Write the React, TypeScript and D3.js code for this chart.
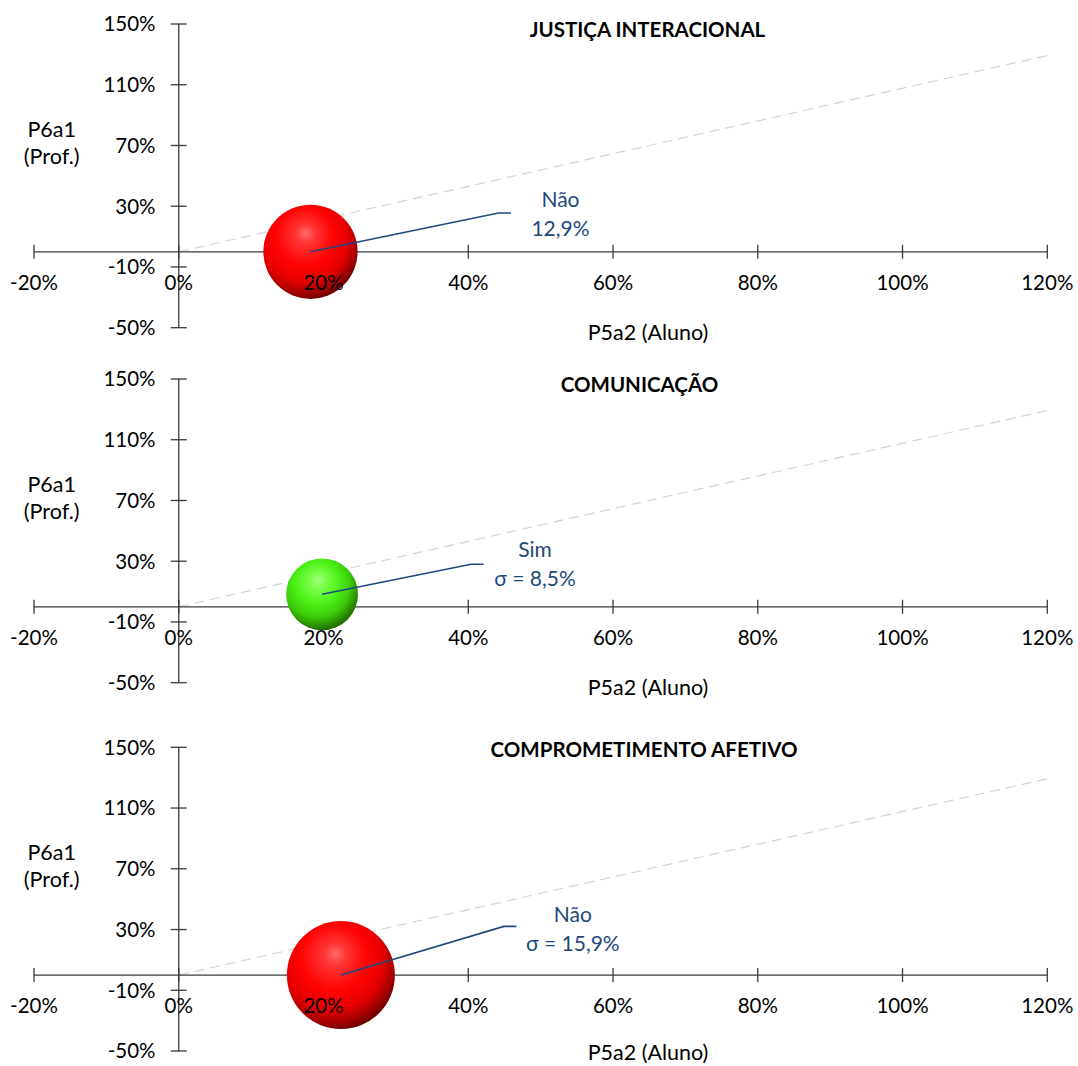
import React from "react";
import * as d3 from "d3";

// Dimension titles, one small bubble chart each
const panelTitles = ["JUSTIÇA INTERACIONAL", "COMUNICAÇÃO", "COMPROMETIMENTO AFETIVO"];
// P5a2 (student) position of each bubble
const studentValues = [0.182, 0.198, 0.224];
// P6a1 (teacher) position of each bubble
const teacherValues = [0.0, 0.082, 0.0];
// Standard deviation shown as bubble size
const sigmaValues = [0.129, 0.085, 0.159];
// Verdict printed above the sigma
const verdicts = ["Não", "Sim", "Não"];
const sigmaPrefixes = ["", "σ = ", "σ = "];
// Reference diagonal drawn in every panel
const referenceLine: [number, number][] = [
  [0, 0],
  [1.207, 1.3],
];
const xTicks = [-0.2, 0, 0.2, 0.4, 0.6, 0.8, 1.0, 1.2];
const yTicks = [1.5, 1.1, 0.7, 0.3, -0.1, -0.5];

// Layout
const W = 1078;
const H = 1066;
const panelTops = [24, 379, 747.3];
const plotH = 303.7;
const titleOffsets = [
  { x: 647.5, dy: 13.3 },
  { x: 639.5, dy: 13.3 },
  { x: 644, dy: 10 },
];
// label placement relative to the bubble centre
const labelOffsets = [
  { dx: 250, dy: -44.8, ex: 188, ey: -38.8 },
  { dx: 213, dy: -37, ex: 149, ey: -30 },
  { dx: 232, dy: -53, ex: 163, ey: -48.7 },
];

const FONT = "Lato, 'Open Sans', sans-serif";
const AXIS = "#3a3a3a";
const LABEL_BLUE = "#1F497D";
const fmt = (v: number) => `${Math.round(v * 100)}%`;
const fmtSigma = (v: number) => `${(v * 100).toFixed(1).replace(".", ",")}%`;

const x = d3.scaleLinear().domain([-0.2, 1.2]).range([34, 1047.3]);
const r = d3.scalePow().exponent(0.65).domain([0, 0.159]).range([0, 54]);

function Panel({ i }: { i: number }) {
  const top = panelTops[i];
  const y = d3.scaleLinear().domain([-0.5, 1.5]).range([top + plotH, top]);
  const y0 = y(0);
  const x0 = x(0);
  const cx = x(studentValues[i]);
  const cy = y(teacherValues[i]);
  const rad = r(sigmaValues[i]);
  const lo = labelOffsets[i];
  const lx = cx + lo.dx;
  const ly = cy + lo.dy;
  const line = d3
    .line<[number, number]>()
    .x((d) => x(d[0]))
    .y((d) => y(d[1]));
  const grad = i === 1 ? "url(#sphereGreen)" : "url(#sphereRed)";
  const tickFont = { fontFamily: FONT, fontSize: 20.5, fill: "#000" };
  const titleFont = { fontFamily: FONT, fontSize: 21.5, fill: "#000" };
  return (
    <g>
      {/* reference diagonal */}
      <path
        d={line(referenceLine) || ""}
        fill="none"
        stroke="#d4d4d4"
        strokeWidth={1.2}
        strokeDasharray="10,6"
      />
      {/* axes */}
      <line x1={x(-0.2)} x2={x(1.2)} y1={y0} y2={y0} stroke={AXIS} strokeWidth={1.3} />
      {xTicks.map((t) => (
        <line key={"xt" + t} x1={x(t)} x2={x(t)} y1={y0 - 7} y2={y0 + 7} stroke={AXIS} strokeWidth={1.3} />
      ))}
      <line x1={x0} x2={x0} y1={y(1.5)} y2={y(-0.5)} stroke={AXIS} strokeWidth={1.3} />
      {yTicks.map((t) => (
        <line key={"yt" + t} x1={x0 - 8} x2={x0 + 8} y1={y(t)} y2={y(t)} stroke={AXIS} strokeWidth={1.3} />
      ))}
      {/* bubble */}
      <circle cx={cx} cy={cy} r={rad} fill={grad} />
      {/* tick labels */}
      {xTicks.map((t) => (
        <text key={"xl" + t} x={x(t)} y={y0 + 38} textAnchor="middle" {...tickFont}>
          {fmt(t)}
        </text>
      ))}
      {yTicks.map((t) => (
        <text key={"yl" + t} x={155.5} y={y(t) + 7.3} textAnchor="end" {...tickFont}>
          {fmt(t)}
        </text>
      ))}
      {/* axis titles */}
      <text x={648} y={Math.min(y0 + 88.5, H - 6)} textAnchor="middle" {...titleFont}>
        P5a2 (Aluno)
      </text>
      <text x={51.7} y={top + 112.5} textAnchor="middle" {...titleFont}>
        P6a1
      </text>
      <text x={51.7} y={top + 140} textAnchor="middle" {...titleFont}>
        (Prof.)
      </text>
      {/* chart title */}
      <text
        x={titleOffsets[i].x}
        y={top + titleOffsets[i].dy}
        textAnchor="middle"
        fontFamily={FONT}
        fontWeight="bold"
        fontSize={20.5}
        fill="#000"
      >
        {panelTitles[i]}
      </text>
      {/* data label with leader */}
      <polyline
        points={`${cx},${cy} ${cx + lo.ex},${cy + lo.ey} ${cx + lo.ex + 12.5},${cy + lo.ey}`}
        fill="none"
        stroke={LABEL_BLUE}
        strokeWidth={1.6}
      />
      <text x={lx} y={ly} textAnchor="middle" fontFamily={FONT} fontSize={21} fill={LABEL_BLUE}>
        {verdicts[i]}
      </text>
      <text x={lx} y={ly + 29} textAnchor="middle" fontFamily={FONT} fontSize={21} fill={LABEL_BLUE}>
        {sigmaPrefixes[i] + fmtSigma(sigmaValues[i])}
      </text>
    </g>
  );
}

export default function App() {
  return (
    <svg
      width={W}
      height={H}
      viewBox={`0 0 ${W} ${H}`}
      style={{ position: "absolute", left: 0, top: 0, background: "#fff" }}
    >
      <defs>
        <radialGradient id="sphereRed" cx="0.42" cy="0.38" r="0.68" fx="0.45" fy="0.3">
          <stop offset="0" stopColor="#ff6a6a" />
          <stop offset="0.15" stopColor="#ff3535" />
          <stop offset="0.45" stopColor="#ff0303" />
          <stop offset="0.68" stopColor="#e60000" />
          <stop offset="0.85" stopColor="#a00000" />
          <stop offset="1" stopColor="#4a0000" />
        </radialGradient>
        <radialGradient id="sphereGreen" cx="0.42" cy="0.38" r="0.68" fx="0.45" fy="0.3">
          <stop offset="0" stopColor="#a6ff86" />
          <stop offset="0.15" stopColor="#7cff4c" />
          <stop offset="0.45" stopColor="#4cf016" />
          <stop offset="0.68" stopColor="#3ccc0a" />
          <stop offset="0.85" stopColor="#288c00" />
          <stop offset="1" stopColor="#1a5200" />
        </radialGradient>
      </defs>
      <rect width={W} height={H} fill="#fff" />
      {panelTitles.map((_, i) => (
        <Panel key={i} i={i} />
      ))}
    </svg>
  );
}
